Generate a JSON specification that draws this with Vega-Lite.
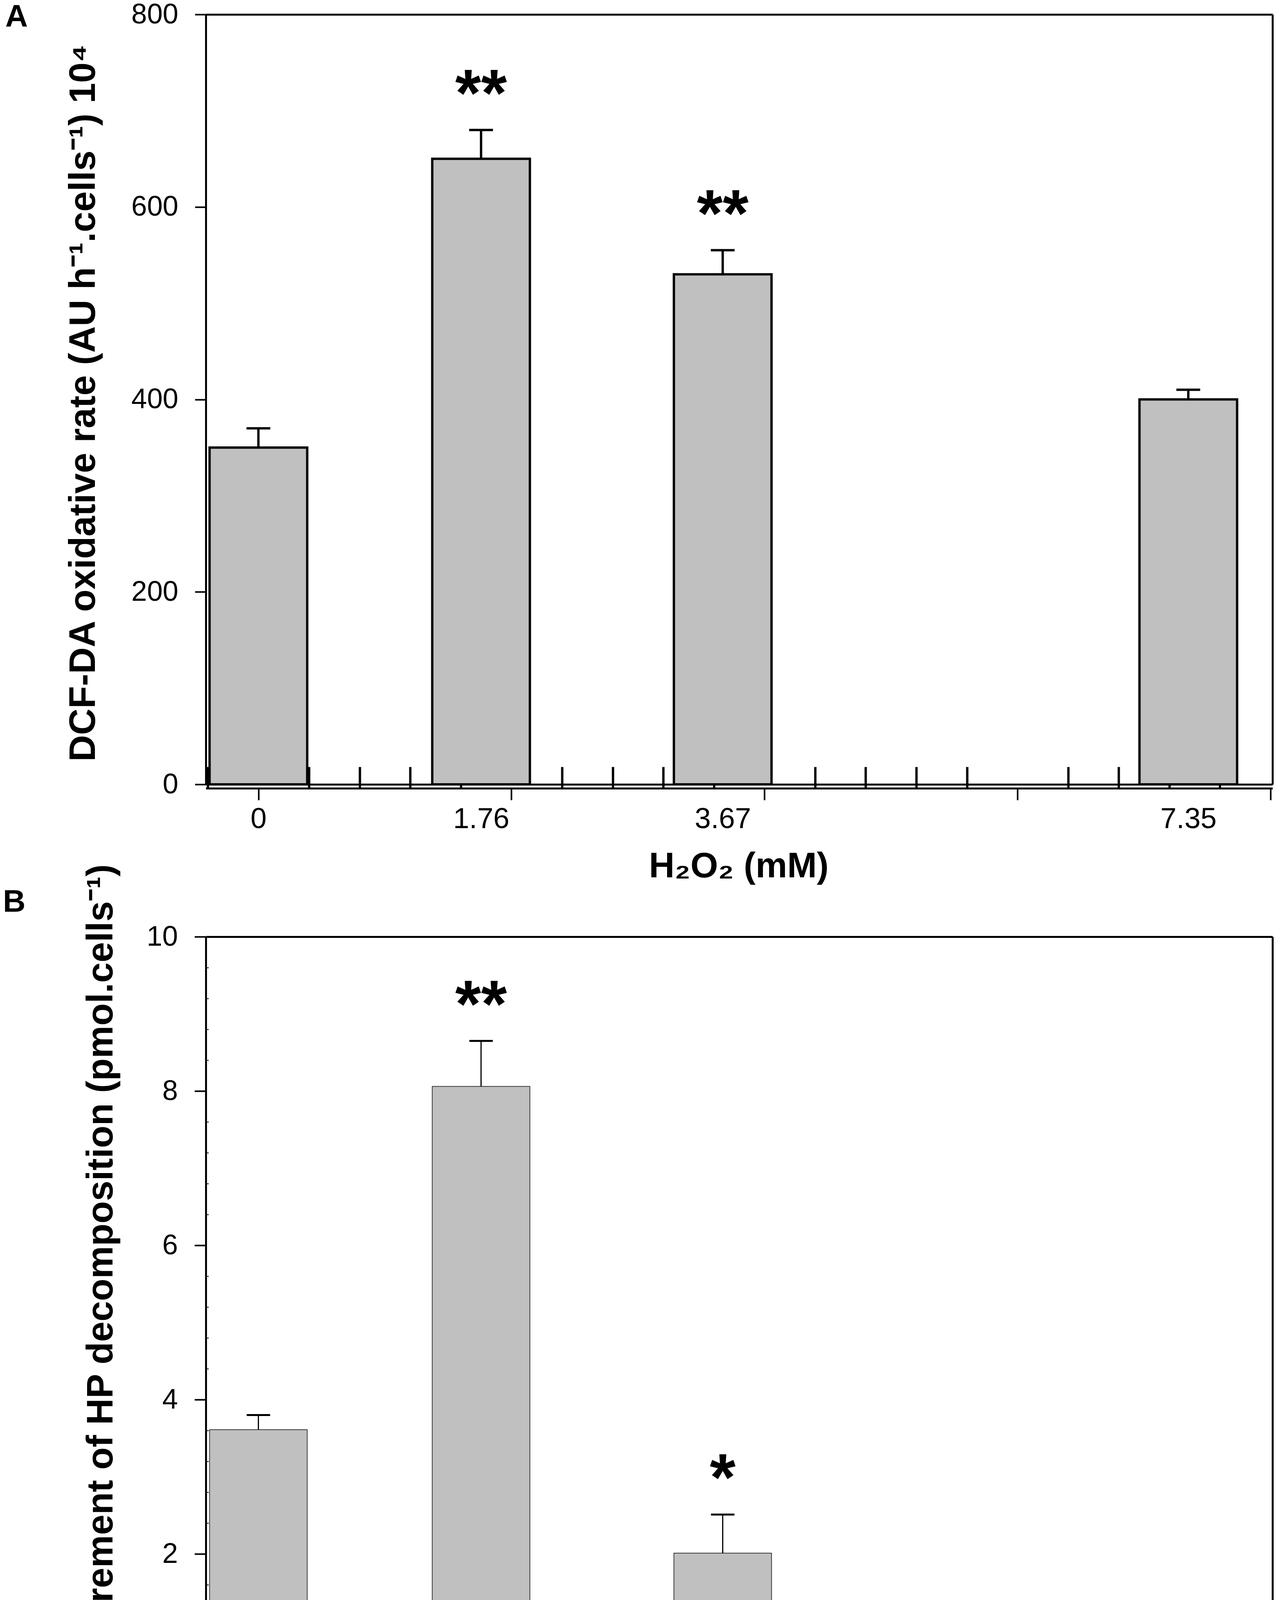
{
  "$schema": "https://vega.github.io/schema/vega-lite/v6.json",
  "width": 3267,
  "height": 4643,
  "autosize": {"type": "none"},
  "padding": 0,
  "background": "white",
  "config": {
    "font": "Liberation Sans",
    "view": {"stroke": null},
    "axis": {"labelFlush": false, "labelOverlap": false, "grid": false, "labelColor": "black", "titleColor": "black", "tickColor": "black", "domainColor": "black", "domainWidth": 5}
  },
  "resolve": {"scale": {"y": "independent"}, "axis": {"x": "independent", "y": "independent"}},
  "layer": [
    {
      "data": {"values": [
        {"conc": 0, "value": 350, "upper": 370, "sig": ""},
        {"conc": 1.76, "value": 650, "upper": 680, "sig": "**"},
        {"conc": 3.67, "value": 530, "upper": 555, "sig": "**"},
        {"conc": 7.35, "value": 400, "upper": 410, "sig": ""}
      ]},
      "resolve": {"axis": {"x": "independent", "y": "independent"}},
      "layer": [
        {
          "mark": {"type": "bar", "width": 250, "fill": "#c0c0c0", "stroke": "black", "strokeWidth": 6, "orient": "vertical"},
          "encoding": {
            "x": {"field": "conc", "type": "quantitative", "scale": {"domain": [-0.4, 8], "range": [527, 3258], "nice": false, "zero": false},
              "axis": {"orient": "bottom", "offset": -2625, "values": [0, 2, 4, 6, 8], "labels": false, "domain": false, "tickSize": 30, "tickWidth": 4, "title": null}},
            "y": {"field": "value", "type": "quantitative", "scale": {"domain": [0, 800], "range": [2008, 37], "nice": false},
              "axis": {"orient": "left", "offset": -527, "values": [0, 200, 400, 600, 800], "domain": true, "tickSize": 28, "tickWidth": 4, "labelPadding": 43, "labelFontSize": 72,
                "title": "DCF-DA oxidative rate (AU h⁻¹.cells⁻¹) 10⁴", "titleFontSize": 94, "titleFontWeight": "bold", "titleAngle": -90, "titleX": -285, "titleY": 1031, "titleAlign": "center", "titleBaseline": "alphabetic"}}
          }
        },
        {
          "mark": {"type": "rule", "stroke": "black", "strokeWidth": 6},
          "encoding": {
            "x": {"field": "conc", "type": "quantitative", "scale": {"domain": [-0.4, 8], "range": [527, 3258], "nice": false, "zero": false},
              "axis": {"orient": "bottom", "offset": -2625, "values": [-0.4, 0.4, 0.8, 1.2, 1.6, 2.4, 2.8, 3.2, 3.6, 4.4, 4.8, 5.2, 5.6, 6.4, 6.8, 7.2, 7.6], "labels": false, "domain": true, "tickSize": -55, "tickWidth": 6, "title": null}},
            "y": {"field": "value", "type": "quantitative", "scale": {"domain": [0, 800], "range": [2008, 37], "nice": false},
              "axis": {"orient": "right", "offset": -9, "domain": true, "ticks": false, "labels": false, "title": null}},
            "y2": {"field": "upper"}
          }
        },
        {
          "mark": {"type": "tick", "orient": "horizontal", "size": 61, "thickness": 6, "color": "black", "opacity": 1},
          "encoding": {
            "x": {"field": "conc", "type": "quantitative", "scale": {"domain": [-0.4, 8], "range": [527, 3258], "nice": false, "zero": false},
              "axis": {"orient": "bottom", "offset": -2635, "values": [0, 1.76, 3.67, 7.35], "format": ".3~r", "ticks": false, "tickSize": 0, "domain": true, "labelPadding": 53, "labelFontSize": 74,
                "title": "H₂O₂ (mM)", "titleFontSize": 91, "titleFontWeight": "bold", "titleX": 1891, "titleY": 237, "titleBaseline": "alphabetic", "titleAlign": "center"}},
            "y": {"field": "upper", "type": "quantitative", "scale": {"domain": [0, 800], "range": [2008, 37], "nice": false}, "axis": null}
          }
        },
        {
          "mark": {"type": "text", "fontSize": 170, "fontWeight": "bold", "align": "center", "baseline": "alphabetic", "dy": -36, "color": "black"},
          "encoding": {
            "x": {"field": "conc", "type": "quantitative", "scale": {"domain": [-0.4, 8], "range": [527, 3258], "nice": false, "zero": false},
              "axis": {"orient": "top", "offset": -37, "domain": true, "ticks": false, "labels": false,
                "title": "A", "titleFontSize": 80, "titleFontWeight": "bold", "titleX": 42, "titleY": 6, "titleAlign": "center", "titleBaseline": "middle"}},
            "y": {"field": "upper", "type": "quantitative", "scale": {"domain": [0, 800], "range": [2008, 37], "nice": false}, "axis": null},
            "text": {"field": "sig"}
          }
        }
      ]
    },
    {
      "data": {"values": [
        {"conc": 0, "value": 3.61, "upper": 3.8, "sig": ""},
        {"conc": 1.76, "value": 8.06, "upper": 8.65, "sig": "**"},
        {"conc": 3.67, "value": 2.01, "upper": 2.51, "sig": "*"},
        {"conc": 7.35, "value": 0.16, "upper": 0.21, "sig": "**"}
      ]},
      "resolve": {"axis": {"x": "independent", "y": "independent"}},
      "layer": [
        {
          "mark": {"type": "bar", "width": 250, "fill": "#c0c0c0", "stroke": "#3a3a3a", "strokeWidth": 2, "orient": "vertical"},
          "encoding": {
            "x": {"field": "conc", "type": "quantitative", "scale": {"domain": [-0.4, 8], "range": [527, 3258], "nice": false, "zero": false},
              "axis": {"orient": "bottom", "offset": -270, "values": [0, 2, 4, 6, 8], "labels": false, "domain": true, "tickSize": 30, "tickWidth": 4, "title": null}},
            "y": {"field": "value", "type": "quantitative", "scale": {"domain": [0, 10], "range": [4373, 2398], "nice": false},
              "axis": {"orient": "left", "offset": -527, "values": [0, 2, 4, 6, 8, 10], "domain": true, "tickSize": 29, "tickWidth": 4, "labelPadding": 43, "labelFontSize": 72,
                "title": "Measurement of HP decomposition (pmol.cells⁻¹)", "titleFontSize": 94, "titleFontWeight": "bold", "titleAngle": -90, "titleX": -240, "titleY": 3303, "titleAlign": "center", "titleBaseline": "alphabetic"}}
          }
        },
        {
          "mark": {"type": "rule", "stroke": "black", "strokeWidth": 3},
          "encoding": {
            "x": {"field": "conc", "type": "quantitative", "scale": {"domain": [-0.4, 8], "range": [527, 3258], "nice": false, "zero": false},
              "axis": {"orient": "bottom", "offset": -270, "values": [-0.4, 0.4, 0.8, 1.2, 1.6, 2.4, 2.8, 3.2, 3.6, 4.4, 4.8, 5.2, 5.6, 6.4, 6.8, 7.2, 7.6], "labels": false, "domain": false, "tickSize": -50, "tickWidth": 1.5, "title": null}},
            "y": {"field": "value", "type": "quantitative", "scale": {"domain": [0, 10], "range": [4373, 2398], "nice": false},
              "axis": {"orient": "left", "offset": -527, "values": [0.4, 0.8, 1.2, 1.6, 2.4, 2.8, 3.2, 3.6, 4.4, 4.8, 5.2, 5.6, 6.4, 6.8, 7.2, 7.6, 8.4, 8.8, 9.2, 9.6], "labels": false, "domain": false, "tickSize": -7, "tickWidth": 2, "title": null}},
            "y2": {"field": "upper"}
          }
        },
        {
          "mark": {"type": "tick", "orient": "horizontal", "size": 60, "thickness": 5, "color": "black", "opacity": 1},
          "encoding": {
            "x": {"field": "conc", "type": "quantitative", "scale": {"domain": [-0.4, 8], "range": [527, 3258], "nice": false, "zero": false},
              "axis": {"orient": "bottom", "offset": -270, "values": [0, 1.76, 3.67, 7.35], "format": ".3~r", "ticks": false, "tickSize": 0, "domain": false, "labelPadding": 43, "labelFontSize": 74,
                "title": "H₂O₂ (mM)", "titleFontSize": 91, "titleFontWeight": "bold", "titleX": 1800, "titleY": 220, "titleBaseline": "alphabetic", "titleAlign": "center"}},
            "y": {"field": "upper", "type": "quantitative", "scale": {"domain": [0, 10], "range": [4373, 2398], "nice": false},
              "axis": {"orient": "right", "offset": -9, "domain": true, "ticks": false, "labels": false, "title": null}}
          }
        },
        {
          "mark": {"type": "text", "fontSize": 170, "fontWeight": "bold", "align": "center", "baseline": "alphabetic", "dy": -36, "color": "black"},
          "encoding": {
            "x": {"field": "conc", "type": "quantitative", "scale": {"domain": [-0.4, 8], "range": [527, 3258], "nice": false, "zero": false},
              "axis": {"orient": "top", "offset": -2398, "domain": true, "ticks": false, "labels": false,
                "title": "B", "titleFontSize": 80, "titleFontWeight": "bold", "titleX": 36, "titleY": -89, "titleAlign": "center", "titleBaseline": "middle"}},
            "y": {"field": "upper", "type": "quantitative", "scale": {"domain": [0, 10], "range": [4373, 2398], "nice": false}, "axis": null},
            "text": {"field": "sig"}
          }
        }
      ]
    }
  ]
}
